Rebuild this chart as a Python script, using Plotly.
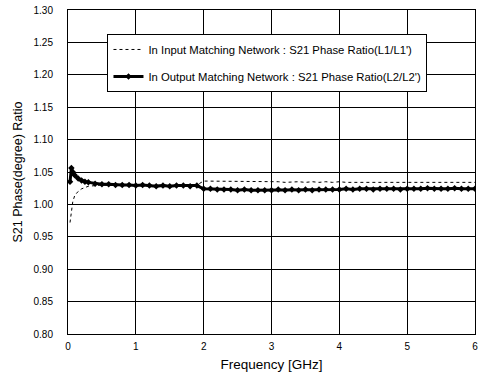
import plotly.graph_objects as go

freq = [0.03, 0.05, 0.07, 0.1, 0.15, 0.2, 0.25, 0.3,
        0.4, 0.5, 0.6, 0.7, 0.8, 0.9, 1.0, 1.1, 1.2, 1.3, 1.4, 1.5, 1.6, 1.7, 1.8, 1.9,
        2.0, 2.1, 2.2, 2.3, 2.4, 2.5, 2.6, 2.7, 2.8, 2.9, 3.0, 3.1, 3.2, 3.3, 3.4, 3.5,
        3.6, 3.7, 3.8, 3.9, 4.0, 4.1, 4.2, 4.3, 4.4, 4.5, 4.6, 4.7, 4.8, 4.9, 5.0,
        5.1, 5.2, 5.3, 5.4, 5.5, 5.6, 5.7, 5.8, 5.9, 6.0]

input_ratio = [0.972, 0.990, 1.004, 1.014, 1.020, 1.024, 1.026, 1.028,
               1.029, 1.030, 1.029, 1.030, 1.030, 1.029, 1.030, 1.030, 1.029, 1.030, 1.030, 1.029, 1.030, 1.030, 1.029, 1.030,
               1.036, 1.036, 1.035, 1.036, 1.035, 1.036, 1.035, 1.035, 1.036, 1.035, 1.035, 1.035, 1.034, 1.035, 1.035, 1.034,
               1.035, 1.034, 1.035, 1.034, 1.035, 1.034, 1.034, 1.035, 1.034, 1.034, 1.035, 1.034, 1.034, 1.035, 1.034,
               1.034, 1.035, 1.034, 1.034, 1.035, 1.034, 1.034, 1.034, 1.035, 1.034]

output_ratio = [1.035, 1.056, 1.050, 1.045, 1.040, 1.037, 1.035, 1.034,
                1.032, 1.031, 1.031, 1.030, 1.030, 1.030, 1.029, 1.030, 1.029, 1.028, 1.029, 1.028, 1.029, 1.029, 1.028, 1.029,
                1.024, 1.024, 1.023, 1.023, 1.023, 1.022, 1.023, 1.022, 1.022, 1.022, 1.022, 1.023, 1.022, 1.023, 1.022, 1.023,
                1.022, 1.023, 1.023, 1.023, 1.023, 1.024, 1.023, 1.024, 1.024, 1.023, 1.024, 1.024, 1.024, 1.023, 1.024,
                1.024, 1.024, 1.025, 1.024, 1.024, 1.024, 1.025, 1.024, 1.024, 1.024]

x_ticks = [0, 1, 2, 3, 4, 5, 6]
y_ticks = [0.80, 0.85, 0.90, 0.95, 1.00, 1.05, 1.10, 1.15, 1.20, 1.25, 1.30]

FONT = "Liberation Sans, Arial, sans-serif"

fig = go.Figure()
fig.add_trace(go.Scatter(
    x=freq, y=input_ratio, mode="lines",
    name="In Input Matching Network : S21 Phase Ratio(L1/L1')",
    legendgroup="a",
    line=dict(color="black", width=1, dash="dot"),
))
fig.add_trace(go.Scatter(
    x=freq, y=output_ratio, mode="lines+markers",
    name="In Output Matching Network : S21 Phase Ratio(L2/L2')",
    legendgroup="b",
    line=dict(color="black", width=3),
    marker=dict(symbol="diamond", size=5, color="black"),
))

fig.update_layout(
    width=482, height=382,
    margin=dict(l=68, r=4, t=9, b=48),
    paper_bgcolor="white", plot_bgcolor="white",
    font=dict(family=FONT, color="black", size=10),
    showlegend=True,
    legend=dict(
        x=0.097, y=0.926, xanchor="left", yanchor="top",
        bgcolor="white", bordercolor="black", borderwidth=1,
        font=dict(size=11.3, family=FONT),
        itemwidth=30, tracegroupgap=8,
    ),
    xaxis=dict(
        range=[0, 6], tickvals=x_ticks, ticktext=[str(v) for v in x_ticks],
        showgrid=True, gridcolor="black", gridwidth=1,
        showline=True, linecolor="black", linewidth=1, mirror=True,
        ticks="", zeroline=False,
        tickfont=dict(size=10), ticklabelstandoff=3,
        title=dict(text="Frequency [GHz]", font=dict(size=13.5), standoff=8),
    ),
    yaxis=dict(
        range=[0.80, 1.30], tickvals=y_ticks, ticktext=[f"{v:.2f}" for v in y_ticks],
        showgrid=True, gridcolor="black", gridwidth=1,
        showline=True, linecolor="black", linewidth=1, mirror=True,
        ticks="", zeroline=False,
        tickfont=dict(size=10), ticklabelstandoff=12,
        title=dict(text="S21 Phase(degree) Ratio", font=dict(size=12.5), standoff=8),
    ),
)

fig.write_html("out.html")
